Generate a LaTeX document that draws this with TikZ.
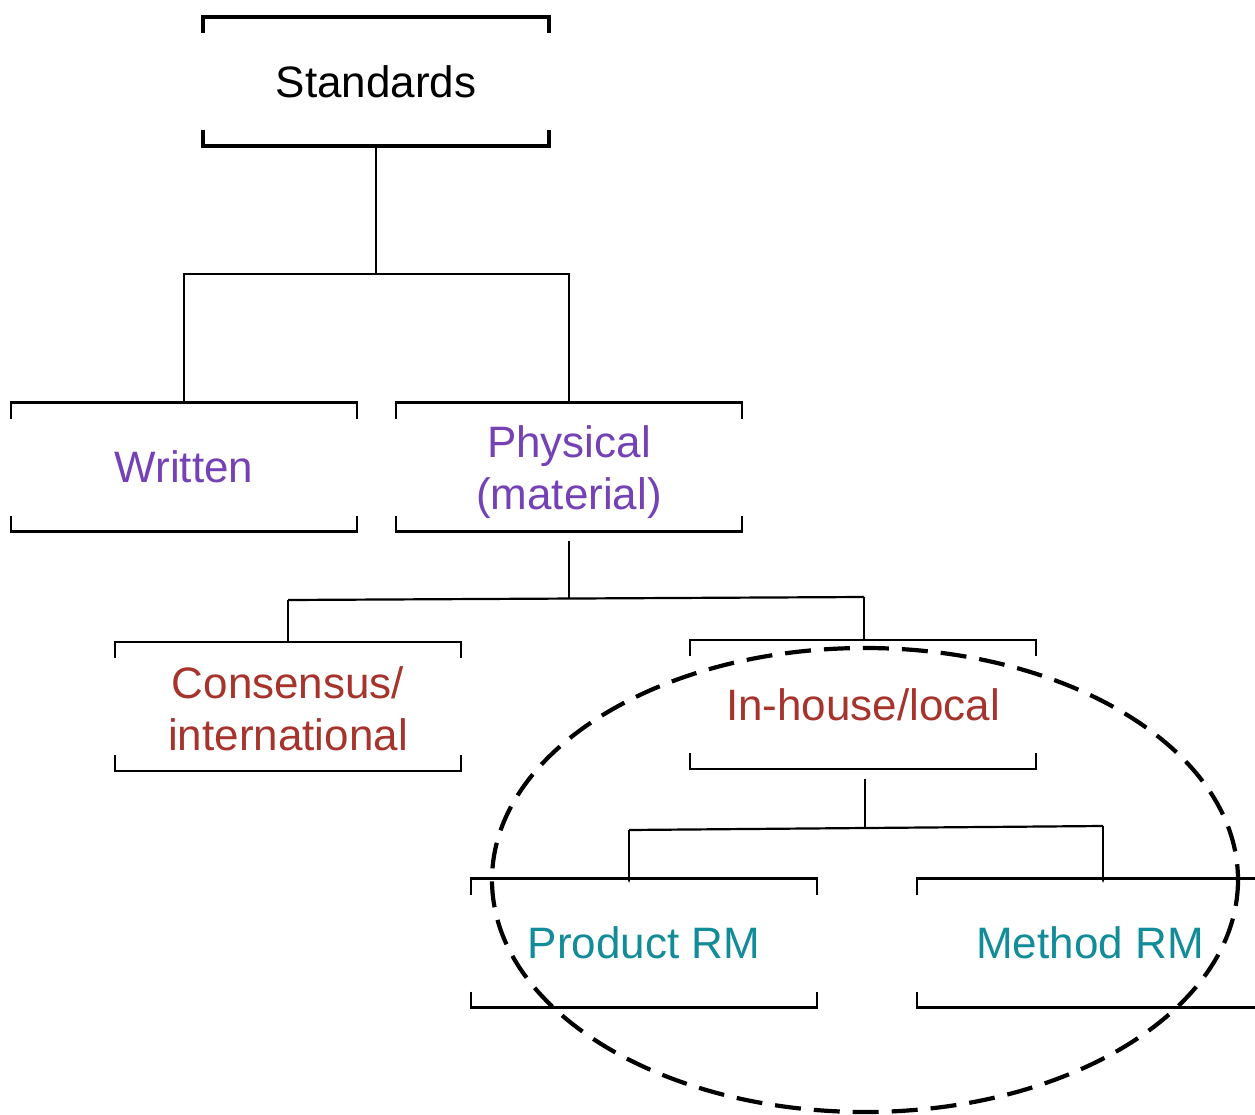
\documentclass[tikz,border=0pt]{standalone}
\usepackage{fontspec}
\setmainfont{Liberation Sans}
\usetikzlibrary{arrows.meta}
\definecolor{cpurple}{RGB}{116,66,181}
\definecolor{cred}{RGB}{166,52,45}
\definecolor{cteal}{RGB}{18,140,152}
\tikzset{
  boxnode/.style={minimum width=346pt,minimum height=129pt,inner sep=0pt,outer sep=0pt,align=center,font=\fontsize{44}{52}\selectfont},
  conn/.style={line width=2.2pt},
  tinytip/.style={-{Stealth[length=6pt,width=4pt]}}
}
\newcommand{\brk}[3]{% name, width, tick
  \draw[line width=#2] ([yshift=-#3]#1.north west) -- (#1.north west) -- (#1.north east) -- ([yshift=-#3]#1.north east);
  \draw[line width=#2] ([yshift=#3]#1.south west) -- (#1.south west) -- (#1.south east) -- ([yshift=#3]#1.south east);
}
\begin{document}
\begin{tikzpicture}[x=1pt,y=-1pt]
\useasboundingbox (0,0) rectangle (1255,1115);
\clip (0,0) rectangle (1255,1115);
\node[boxnode] (std) at (376,81.5) {Standards};
\node[boxnode,text=cpurple] (wr) at (184,467) {Written};
\node[boxnode,text=cpurple] (ph) at (569,467) {\raisebox{-5pt}[\height][\depth]{\parbox{346pt}{\centering Physical\\(material)}}};
\node[boxnode,text=cred] (co) at (288,706.5) {\raisebox{-2pt}[\height][\depth]{\parbox{346pt}{\centering Consensus/\\international}}};
\node[boxnode,text=cred] (ih) at (863,704.5) {In-house/local};
\node[boxnode,text=cteal] (pr) at (644,943) {Product RM};
\node[boxnode,text=cteal] (me) at (1090,943) {Method RM};
\brk{std}{3.5pt}{16pt}
\brk{wr}{2.5pt}{16pt}
\brk{ph}{2.5pt}{16pt}
\brk{co}{2.5pt}{16pt}
\brk{ih}{2.5pt}{16pt}
\brk{pr}{2.5pt}{16pt}
\brk{me}{2.5pt}{16pt}
% connectors
\coordinate (j1) at (376,274);
\draw[conn] (std.south) -- (j1);
\draw[conn] (j1) -| (wr.north);
\draw[conn] (j1) -| (ph.north);
\coordinate (p0) at (569,541);
\coordinate (j2a) at (288,600);
\coordinate (j2b) at (864,597);
\draw[conn] (p0) -- (569,598.5);
\draw[conn] (j2a) -- (j2b);
\draw[conn] (j2a) -- (co.north -| j2a);
\draw[conn] (j2b) -- (ih.north -| j2b);
\coordinate (i0) at (865,779);
\coordinate (j3a) at (629,830);
\coordinate (j3b) at (1103,826);
\draw[conn] (i0) -- (865,828);
\draw[conn] (j3a) -- (j3b);
\draw[conn,tinytip] (j3a) -- (629,883);
\draw[conn,tinytip] (j3b) -- (1103,883);
% dashed ellipse
\draw[line width=4.2pt,dash pattern=on 26pt off 13pt] (865,880) ellipse [x radius=373, y radius=232];
\end{tikzpicture}
\end{document}
